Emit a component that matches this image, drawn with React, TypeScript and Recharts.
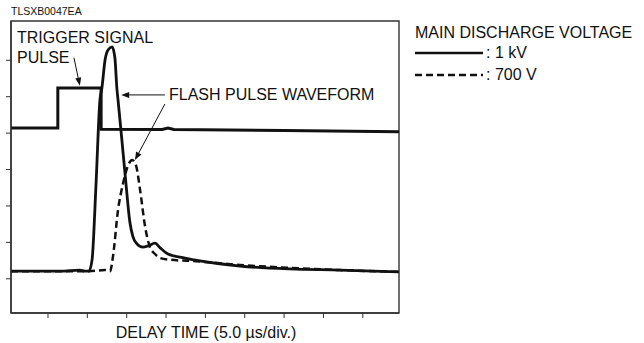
import { Line, LineChart, ReferenceArea, ReferenceLine, XAxis, YAxis } from "recharts";

// time axis in divisions (5.0 µs/div), amplitude in divisions
const xDomain: [number, number] = [0.06, 9.92];
const yDomain: [number, number] = [0.06, 8.08];
const xTicks = [1, 2, 3, 4, 5, 6, 7, 8, 9];
const yTicks = [1, 2, 3, 4, 5, 6, 7];

const triggerPulse = [
  { t: 0.06, v: 5.14 },
  { t: 1.25, v: 5.14 },
  { t: 1.25, v: 6.24 },
  { t: 2.35, v: 6.24 },
  { t: 2.35, v: 5.11 },
  { t: 3.9, v: 5.1 },
  { t: 4.05, v: 5.14 },
  { t: 4.2, v: 5.1 },
  { t: 7.0, v: 5.07 },
  { t: 9.92, v: 5.04 },
];

const flash1kV = [
  { t: 0.06, v: 1.21 },
  { t: 1.31, v: 1.21 },
  { t: 1.81, v: 1.24 },
  { t: 1.94, v: 1.21 },
  { t: 2.04, v: 1.21 },
  { t: 2.12, v: 1.52 },
  { t: 2.22, v: 3.58 },
  { t: 2.32, v: 5.91 },
  { t: 2.37, v: 6.24 },
  { t: 2.45, v: 7.01 },
  { t: 2.53, v: 7.29 },
  { t: 2.63, v: 7.37 },
  { t: 2.7, v: 7.07 },
  { t: 2.75, v: 6.24 },
  { t: 2.78, v: 5.91 },
  { t: 2.88, v: 4.79 },
  { t: 2.98, v: 3.63 },
  { t: 3.08, v: 2.56 },
  { t: 3.16, v: 2.15 },
  { t: 3.26, v: 1.96 },
  { t: 3.41, v: 1.87 },
  { t: 3.54, v: 1.9 },
  { t: 3.72, v: 1.98 },
  { t: 3.85, v: 1.85 },
  { t: 4.05, v: 1.68 },
  { t: 4.48, v: 1.57 },
  { t: 4.86, v: 1.49 },
  { t: 5.88, v: 1.35 },
  { t: 7.15, v: 1.27 },
  { t: 8.42, v: 1.24 },
  { t: 9.92, v: 1.19 },
];

const flash700V = [
  { t: 0.06, v: 1.21 },
  { t: 2.04, v: 1.21 },
  { t: 2.45, v: 1.24 },
  { t: 2.58, v: 1.21 },
  { t: 2.65, v: 1.6 },
  { t: 2.78, v: 2.89 },
  { t: 2.91, v: 3.63 },
  { t: 3.01, v: 4.04 },
  { t: 3.14, v: 4.26 },
  { t: 3.24, v: 4.1 },
  { t: 3.34, v: 3.44 },
  { t: 3.47, v: 2.42 },
  { t: 3.59, v: 1.87 },
  { t: 3.72, v: 1.68 },
  { t: 3.85, v: 1.57 },
  { t: 4.13, v: 1.52 },
  { t: 4.63, v: 1.49 },
  { t: 5.88, v: 1.38 },
  { t: 7.15, v: 1.3 },
  { t: 8.42, v: 1.24 },
  { t: 9.92, v: 1.19 },
];

const INK = "#111";
const FONT = "'Liberation Sans', Arial, Helvetica, sans-serif";

// tick marks only, no tick labels
const NoLabel = () => <g />;

// line with a filled arrowhead at (x2, y2)
function Arrow(props: any) {
  const { x1, y1, x2, y2 } = props;
  const dx = x2 - x1;
  const dy = y2 - y1;
  const len = Math.hypot(dx, dy) || 1;
  const ux = dx / len;
  const uy = dy / len;
  const hl = 8;
  const hw = 3;
  const bx = x2 - ux * hl;
  const by = y2 - uy * hl;
  const pts = `${x2},${y2} ${bx - uy * hw},${by + ux * hw} ${bx + uy * hw},${by - ux * hw}`;
  return (
    <g>
      <line x1={x1} y1={y1} x2={bx} y2={by} stroke={INK} strokeWidth={1} />
      <polygon points={pts} fill={INK} />
    </g>
  );
}

export default function App() {
  return (
    <div style={{ position: "absolute", left: 0, top: 0, width: 644, height: 343, background: "#fff" }}>
      <LineChart
        width={644}
        height={343}
        margin={{ top: 21, right: 245, bottom: 24, left: 5 }}
      >
        <XAxis
          type="number"
          dataKey="t"
          domain={xDomain}
          ticks={xTicks}
          interval={0}
          allowDataOverflow
          height={6}
          tick={NoLabel}
          tickSize={5}
          tickLine={{ stroke: "#333", strokeWidth: 1 }}
          axisLine={{ stroke: "#333", strokeWidth: 1.4 }}
        />
        <YAxis
          type="number"
          dataKey="v"
          domain={yDomain}
          ticks={yTicks}
          interval={0}
          allowDataOverflow
          width={6}
          tick={NoLabel}
          tickSize={5}
          tickLine={{ stroke: "#333", strokeWidth: 1 }}
          axisLine={{ stroke: "#333", strokeWidth: 1.4 }}
        />
        <ReferenceArea
          x1={xDomain[0]}
          x2={xDomain[1]}
          y1={yDomain[0]}
          y2={yDomain[1]}
          fill="none"
          fillOpacity={0}
          stroke="#333"
          strokeWidth={1.4}
          ifOverflow="visible"
        />
        <Line
          data={triggerPulse}
          dataKey="v"
          type="linear"
          stroke={INK}
          strokeWidth={3}
          dot={false}
          isAnimationActive={false}
        />
        <Line
          data={flash700V}
          dataKey="v"
          type="monotone"
          stroke={INK}
          strokeWidth={2.5}
          strokeDasharray="7 4"
          dot={false}
          isAnimationActive={false}
        />
        <Line
          data={flash1kV}
          dataKey="v"
          type="monotone"
          stroke={INK}
          strokeWidth={2.8}
          dot={false}
          isAnimationActive={false}
        />
        <ReferenceLine
          segment={[{ x: 1.66, y: 7.07 }, { x: 1.81, y: 6.3 }]}
          shape={Arrow}
          ifOverflow="visible"
        />
        <ReferenceLine
          segment={[{ x: 3.97, y: 6.05 }, { x: 2.86, y: 6.05 }]}
          shape={Arrow}
          ifOverflow="visible"
        />
        <ReferenceLine
          segment={[{ x: 3.97, y: 5.8 }, { x: 3.21, y: 4.26 }]}
          shape={Arrow}
          ifOverflow="visible"
        />
      </LineChart>
      <svg
        width={644}
        height={343}
        style={{ position: "absolute", left: 0, top: 0, pointerEvents: "none" }}
        fontFamily={FONT}
        fill={INK}
      >
        <text x={11} y={15} fontSize={10.5}>TLSXB0047EA</text>
        <text x={17} y={43} fontSize={16}>TRIGGER SIGNAL</text>
        <text x={17} y={63} fontSize={16}>PULSE</text>
        <text x={169} y={100} fontSize={16}>FLASH PULSE WAVEFORM</text>
        <text x={206} y={338} fontSize={16} textAnchor="middle">DELAY TIME (5.0 µs/div.)</text>
        <text x={415} y={38} fontSize={16}>MAIN DISCHARGE VOLTAGE</text>
        <line x1={415} y1={53} x2={483} y2={53} stroke={INK} strokeWidth={2.5} />
        <text x={486} y={58} fontSize={16}>: 1 kV</text>
        <line x1={415} y1={75} x2={483} y2={75} stroke={INK} strokeWidth={2.5} strokeDasharray="7 4" />
        <text x={486} y={80} fontSize={16}>: 700 V</text>
      </svg>
    </div>
  );
}
